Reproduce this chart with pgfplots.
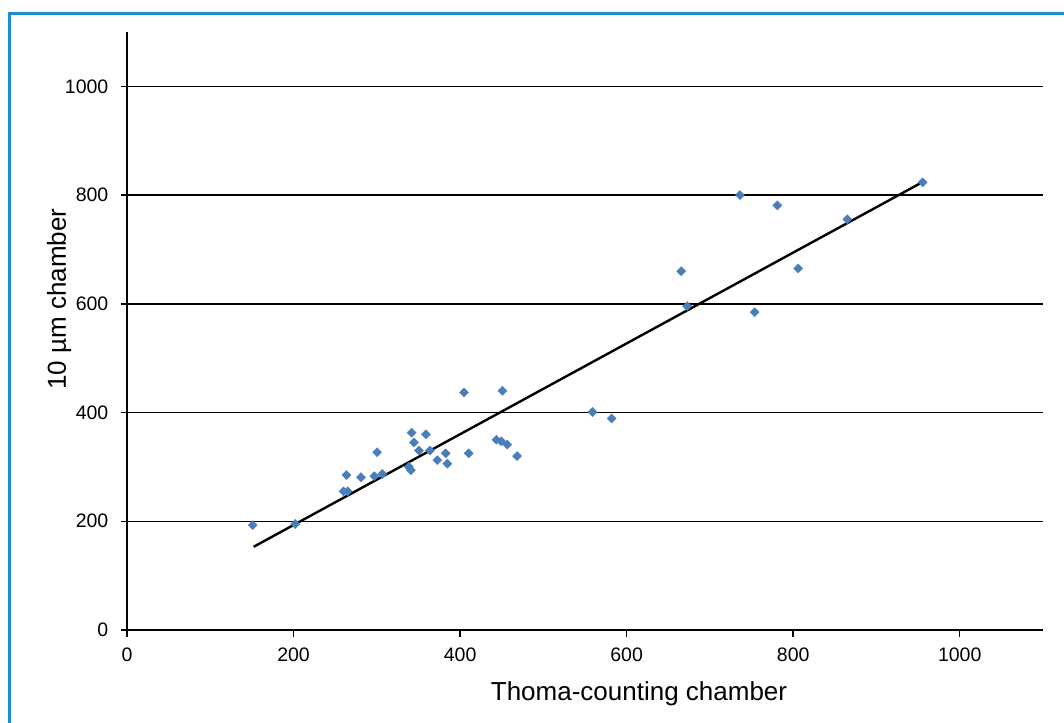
\documentclass[border=0pt]{standalone}
\usepackage{fontspec}
\setmainfont{Liberation Sans}
\usepackage{pgfplots}
\pgfplotsset{compat=1.18}
\definecolor{markblue}{HTML}{4A7EBB}
\definecolor{frameblue}{HTML}{1B8FD0}
\begin{document}
\begin{tikzpicture}
\begin{axis}[
  at={(0pt,0pt)}, anchor=south west,
  scale only axis, width=916pt, height=598pt,
  xmin=0, xmax=1100, ymin=0, ymax=1100,
  xtick={0,200,400,600,800,1000},
  ytick={0,200,400,600,800,1000},
  axis lines=left,
  axis line style={-, black, line width=1.5pt},
  tick align=outside,
  major tick length=6.5pt,
  tick style={black, line width=1.5pt},
  ymajorgrids,
  major grid style={black, line width=1.5pt},
  /pgf/number format/assume math mode=true,
  /pgf/number format/set thousands separator={},
  ticklabel style={font=\fontsize{19.5}{23}\selectfont},
  xticklabel style={anchor=north, inner sep=0pt, yshift=-11pt},
  yticklabel style={anchor=east, inner sep=0pt, xshift=-12pt},
  clip=false,
]
\addplot[only marks, mark=square*, mark size=3.2pt,
  mark options={rotate=45, fill=markblue, draw=markblue}] coordinates {
(151,193) (202,195) (260,255) (265,255) (263.5,285) (281,281) (297,283)
(306.5,287) (300.4,327) (338.5,300) (341,294) (341.8,363) (344.6,345)
(350.6,330) (359,360) (363.8,330) (372.6,312.5) (382.7,325) (384.7,306)
(404.7,437) (410.3,325) (450.8,440) (443.6,350) (449.5,347) (456.7,341)
(468.4,320) (559,401) (582,389) (736,800) (781,781) (865,755.5)
(955.5,823.5) (665.5,660) (806,665) (672.7,595.6) (753.7,584.6)
};
\addplot[black, line width=2.4pt] coordinates {(152,153) (953,822)};
\end{axis}
\node[anchor=base, font=\fontsize{26}{30}\selectfont] at (512pt,-70pt) {Thoma-counting chamber};
\node[anchor=base, rotate=90, font=\fontsize{26}{30}\selectfont] at (-61pt,331pt) {10 µm chamber};
\draw[frameblue, line width=3pt] (-117pt,-300pt) rectangle (1300pt,616.7pt);
\pgfresetboundingbox
\useasboundingbox (-127pt,-92pt) rectangle (937pt,630pt);
\end{tikzpicture}
\end{document}
